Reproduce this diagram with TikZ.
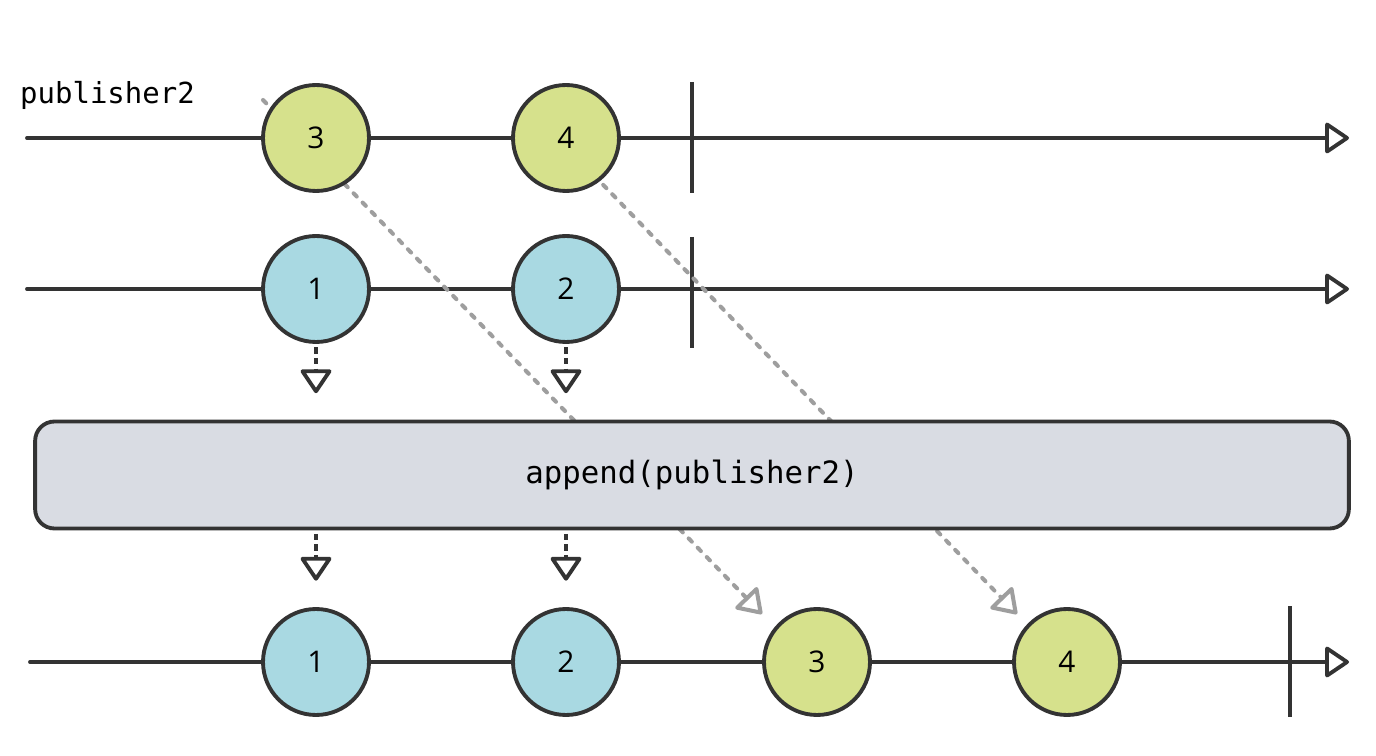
\documentclass[tikz,border=0pt]{standalone}
\usepackage{fontspec}
\setmainfont{Open Sans}
\setmonofont{DejaVu Sans Mono}
\usetikzlibrary{arrows.meta,positioning}
\definecolor{cLine}{HTML}{333333}
\definecolor{cGreen}{HTML}{D6E18C}
\definecolor{cBlue}{HTML}{A9D9E2}
\definecolor{cBox}{HTML}{D9DCE3}
\definecolor{cDash}{HTML}{9E9E9E}
\tikzset{
  axis/.style  = {draw=cLine, line width=2.2pt, line cap=round,
                  -{Triangle[open, round, length=14.5pt, width=19pt]}},
  tick/.style  = {draw=cLine, line width=2.2pt},
  ball/.style  = {circle, draw=cLine, fill=#1, line width=2.2pt, minimum size=2.12cm,
                  inner sep=0pt, font=\fontsize{17}{19}\selectfont},
  ball/.default = cGreen,
  drop/.style  = {draw=cLine, line width=2.2pt, dash pattern=on 3.5pt off 2.5pt,
                  -{Triangle[open, round, length=14.5pt, width=19pt, sep=0pt]}},
  moved/.style = {draw=cDash, line width=2.3pt, line cap=round, dash pattern=on 2.6pt off 4.8pt,
                  -{Triangle[open, round, length=14.5pt, width=19pt]}},
  op/.style    = {rectangle, rounded corners=11pt, draw=cLine, fill=cBox, line width=2.2pt,
                  minimum width=26.28cm, minimum height=2.14cm,
                  font=\ttfamily\fontsize{17.5}{20}\selectfont},
  lbl/.style   = {font=\ttfamily\fontsize{16.5}{18}\selectfont, anchor=west},
}

\begin{document}
\begin{tikzpicture}[x=0.02cm, y=-0.02cm]
  \useasboundingbox (0,0) rectangle (1376,756);

  % timelines
  \coordinate (s1) at (27,138);   \coordinate (e1) at (1349,138);
  \coordinate (s2) at (27,289);   \coordinate (e2) at (1349,289);
  \coordinate (s3) at (30,662);   \coordinate (e3) at (1349,662);
  \draw[axis] (s1) -- (e1);
  \draw[axis] (s2) -- (e2);
  \draw[axis] (s3) -- (e3);
  \draw[tick] (692,82) -- (692,193);
  \draw[tick] (692,237) -- (692,348);
  \draw[tick] (1290,606) -- (1290,717);

  \node[lbl] (name2) at (14,95) {publisher2};

  % carried over from publisher2 (under the balls)
  \coordinate (g3c) at (316,138);  \coordinate (g4c) at (566,138);
  \coordinate (o3c) at (817,662);  \coordinate (o4c) at (1067,662);
  \draw[moved] ([shift={(-53,-38)}]g3c) -- ([shift={(-55,-48)}]o3c);
  \draw[moved] ([shift={(-35,-28)}]g4c) -- ([shift={(-50,-48)}]o4c);

  % values
  \node[ball] (g3) at (g3c) {3};
  \node[ball] (g4) at (g4c) {4};
  \node[ball=cBlue] (b1) at (316,289) {1};
  \node[ball=cBlue] (b2) at (566,289) {2};

  \node[ball=cBlue] (o1) at (316,662) {1};
  \node[ball=cBlue] (o2) at (566,662) {2};
  \node[ball] (o3) at (o3c) {3};
  \node[ball] (o4) at (o4c) {4};

  \node[op] (app) at (692,475) {append(publisher2)};

  \draw[drop, shorten <=2pt, shorten >=15pt] (b1.south) -- (b1 |- app.north);
  \draw[drop, shorten <=2pt, shorten >=15pt] (b2.south) -- (b2 |- app.north);
  \draw[drop, shorten <=2pt, shorten >=15pt] (app.south -| o1) -- (o1.north);
  \draw[drop, shorten <=2pt, shorten >=15pt] (app.south -| o2) -- (o2.north);
\end{tikzpicture}
\end{document}
